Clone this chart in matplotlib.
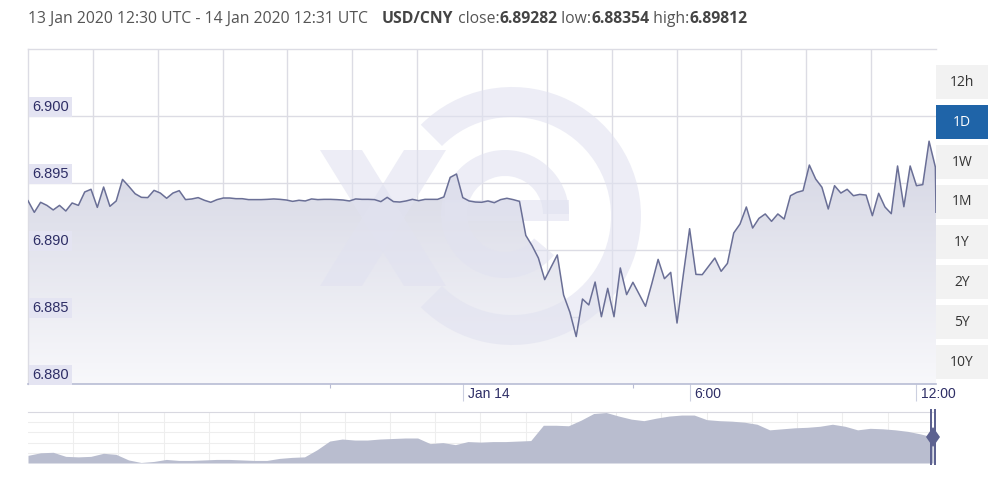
import numpy as np
import pandas as pd
import matplotlib
matplotlib.use("Agg")
import matplotlib.pyplot as plt
import matplotlib.dates as mdates
import matplotlib.transforms as mtransforms
from matplotlib.patches import Wedge, Rectangle, Polygon

# ---------------- data ----------------
title_range = "13 Jan 2020 12:30 UTC - 14 Jan 2020 12:31 UTC"
pair = "USD/CNY"
close_val = "6.89282"
low_val = "6.88354"
high_val = "6.89812"

start_time = "2020-01-13 12:30"
end_time = "2020-01-14 12:31"

rates = [
    6.89368, 6.89281, 6.89356, 6.89333, 6.89299, 6.89333, 6.89291, 6.89351, 6.89333, 6.89433,
    6.89453, 6.89318, 6.89470, 6.89326, 6.89366, 6.89527, 6.89475, 6.89420, 6.89393, 6.89391,
    6.89445, 6.89425, 6.89386, 6.89425, 6.89443, 6.89376, 6.89381, 6.89391, 6.89371, 6.89356,
    6.89376, 6.89388, 6.89388, 6.89383, 6.89383, 6.89376, 6.89376, 6.89376, 6.89378, 6.89381,
    6.89378, 6.89373, 6.89363, 6.89371, 6.89366, 6.89381, 6.89376, 6.89378, 6.89378, 6.89376,
    6.89373, 6.89366, 6.89381, 6.89378, 6.89378, 6.89376, 6.89361, 6.89393, 6.89361, 6.89358,
    6.89366, 6.89378, 6.89368, 6.89378, 6.89378, 6.89378, 6.89396, 6.89542, 6.89567, 6.89391,
    6.89366, 6.89358, 6.89356, 6.89366, 6.89353, 6.89376, 6.89386, 6.89376, 6.89363, 6.89109,
    6.89032, 6.88940, 6.88779, 6.88871, 6.88963, 6.88664, 6.88535, 6.88354, 6.88634, 6.88590,
    6.88761, 6.88502, 6.88714, 6.88502, 6.88866, 6.88667, 6.88759, 6.88669, 6.88580, 6.88749,
    6.88930, 6.88786, 6.88833, 6.88455, 6.88816, 6.89159, 6.88818, 6.88816, 6.88878, 6.88940,
    6.88841, 6.88900, 6.89127, 6.89194, 6.89321, 6.89164, 6.89236, 6.89269, 6.89214, 6.89269,
    6.89231, 6.89405, 6.89430, 6.89443, 6.89634, 6.89530, 6.89468, 6.89306, 6.89480, 6.89425,
    6.89453, 6.89405, 6.89415, 6.89410, 6.89256, 6.89423, 6.89321, 6.89271, 6.89627, 6.89323,
    6.89627, 6.89480, 6.89488, 6.89812, 6.89619,
]
final_rate = 6.89282  # 12:31

y_ticks = [6.880, 6.885, 6.890, 6.895, 6.900]
y_tick_labels = ["6.880", "6.885", "6.890", "6.895", "6.900"]
x_tick_times = ["2020-01-14 00:00", "2020-01-14 06:00", "2020-01-14 12:00"]
x_tick_labels = ["Jan 14", "6:00", "12:00"]
minor_tick_times = ["2020-01-13 20:30", "2020-01-14 04:30"]

buttons = ["12h", "1D", "1W", "1M", "1Y", "2Y", "5Y", "10Y"]
selected_button = "1D"

# navigator overview series (relative level 0..1 of navigator height)
nav_level = [
    0.15, 0.20, 0.21, 0.13, 0.12, 0.13, 0.19, 0.17, 0.06, 0.01,
    0.03, 0.07, 0.05, 0.05, 0.06, 0.07, 0.07, 0.06, 0.05, 0.05,
    0.09, 0.11, 0.12, 0.26, 0.43, 0.47, 0.45, 0.45, 0.47, 0.48,
    0.49, 0.49, 0.38, 0.40, 0.36, 0.42, 0.41, 0.42, 0.42, 0.43,
    0.44, 0.74, 0.74, 0.73, 0.84, 0.97, 0.99, 0.92, 0.86, 0.83,
    0.88, 0.92, 0.94, 0.94, 0.85, 0.83, 0.82, 0.80, 0.76, 0.65,
    0.67, 0.69, 0.70, 0.72, 0.76, 0.72, 0.65, 0.68, 0.67, 0.65,
    0.62, 0.57, 0.51,
]

# ---------------- figure ----------------
W, H = 1007, 478
fig = plt.figure(figsize=(W / 100, H / 100), dpi=100)
fig.patch.set_facecolor("white")

def fx(px):
    return px / W

def fy(py):
    return 1 - py / H

# pixel transform (x right, y down, image pixels)
pix = mtransforms.Affine2D().scale(1 / W, -1 / H).translate(0, 1) + fig.transFigure

L, R, T, B = 28, 936, 49, 384
ax = fig.add_axes([fx(L), fy(B), fx(R - L), (B - T) / H])
ax.set_facecolor("white")

times = list(pd.date_range(start_time, periods=len(rates), freq="10min"))
times.append(pd.Timestamp(end_time))
vals = np.array(rates + [final_rate])
tnum = mdates.date2num(times)

t0 = mdates.date2num(pd.Timestamp(start_time))
t1 = mdates.date2num(pd.Timestamp(end_time))
ymin, ymax = 6.880, 6.905
ax.set_xlim(t0, t1)
ax.set_ylim(ymin, ymax)

# grid
for yv in y_ticks:
    ax.axhline(yv, color="#dcdce4", lw=1.0, zorder=0.5)
for k in range(1, 14):
    ax.axvline(t0 + k * (t1 - t0) / 14, color="#dcdce4", lw=1.0, zorder=0.5)

# gradient area fill
poly = ax.fill_between(tnum, vals, ymin, facecolor="none", edgecolor="none")
grad = np.linspace(0, 1, 256).reshape(-1, 1)
c_top = np.array([0xc6, 0xc8, 0xda]) / 255
c_bot = np.array([0xf8, 0xf8, 0xfb]) / 255
img = c_top[None, None, :] * (1 - grad[:, :, None]) + c_bot[None, None, :] * grad[:, :, None]
im = ax.imshow(img, extent=[t0, t1, ymin, ymax], origin="upper", aspect="auto", zorder=1)
im.set_clip_path(poly.get_paths()[0], transform=ax.transData)

# watermark (xe logo)
wm = dict(facecolor=(225 / 255, 226 / 255, 240 / 255), alpha=0.6, edgecolor="none",
          transform=pix, zorder=2)
ring = Wedge((512, 216), 129, -135, 135, width=30, **wm)
ax.add_artist(ring)
e_arc = Wedge((505, 214), 64, 40, 360, width=26, **wm)
ax.add_artist(e_arc)
e_bar = Rectangle((445, 200), 124, 21, **wm)
ax.add_artist(e_bar)
x1 = Polygon([(320, 150), (362, 150), (446, 286), (404, 286)], closed=True, **wm)
x2 = Polygon([(404, 150), (446, 150), (362, 286), (320, 286)], closed=True, **wm)
ax.add_artist(x1)
ax.add_artist(x2)

# line
ax.plot(tnum, vals, color="#6a6f96", lw=1.1, zorder=3)

# spines
for s in ["top", "left", "right"]:
    ax.spines[s].set_color("#dcdce4")
    ax.spines[s].set_linewidth(1.0)
ax.spines["right"].set_visible(False)
ax.spines["bottom"].set_color("#b8bcd4")
ax.spines["bottom"].set_linewidth(1.2)

# y labels
ax.set_yticks([])
for yv, lab in zip(y_ticks, y_tick_labels):
    ax.text(0.0045, yv + 0.00014, lab, transform=ax.get_yaxis_transform(),
            ha="left", va="bottom", fontsize=10.5, family="Liberation Sans", color="#2e2e66",
            zorder=5,
            bbox=dict(boxstyle="square,pad=0.22", facecolor="#e4e4f2", edgecolor="none"))

# x ticks
ax.set_xticks(mdates.date2num(pd.to_datetime(x_tick_times)))
ax.set_xticklabels(x_tick_labels)
ax.set_xticks(mdates.date2num(pd.to_datetime(minor_tick_times)), minor=True)
ax.tick_params(axis="x", which="major", direction="out", length=12, width=0.8,
               color="#ccd0e0", pad=-10, labelsize=10, labelcolor="#2e2e66")
ax.tick_params(axis="x", which="minor", direction="out", length=3, width=0.8, color="#b8bcd4")
off = mtransforms.ScaledTranslation(5 / 100, 0, fig.dpi_scale_trans)
for lbl in ax.get_xticklabels():
    lbl.set_horizontalalignment("left")
    lbl.set_family("Liberation Sans")
    lbl.set_transform(lbl.get_transform() + off)

# title
title_y = 19
fig.text(fx(28), fy(title_y), title_range, ha="left", va="center", fontsize=11.3,
         family="Open Sans", color="#555555")
parts = [(pair, "bold", 11.3), (" close:", "normal", 11.3), (close_val, "bold", 11.3),
         (" low:", "normal", 11.3), (low_val, "bold", 11.3), (" high:", "normal", 11.3),
         (high_val, "bold", 11.3)]
renderer = fig.canvas.get_renderer()
xcur = 382
for txt, wt, fs in parts:
    t = fig.text(fx(xcur), fy(title_y), txt, ha="left", va="center", fontsize=fs,
                 family="Open Sans", weight=wt,
                 color="#444444" if wt == "bold" else "#555555")
    bb = t.get_window_extent(renderer=renderer)
    xcur += bb.width

# buttons
by0 = 65
for i, b in enumerate(buttons):
    top = by0 + i * 40
    sel = b == selected_button
    fc = "#1f64a8" if sel else "#f2f2f2"
    tc = "white" if sel else "#333333"
    fig.patches.append(Rectangle((936, top), 52, 34, transform=pix, facecolor=fc,
                                 edgecolor="none", figure=fig))
    fig.text(fx(962), fy(top + 17), b, ha="center", va="center", fontsize=10,
             family="Open Sans", color=tc)

# navigator
NL, NR, NT, NB = 28, 933, 412, 463
nax = fig.add_axes([fx(NL), fy(NB), fx(NR - NL), (NB - NT) / H])
nax.set_facecolor("white")
nx = np.arange(len(nav_level))
nax.set_xlim(0, len(nav_level) - 1)
nax.set_ylim(0, 1.0)
for k in range(1, 20):
    nax.axvline(k * (len(nav_level) - 1) / 20, color="#eeeeee", lw=0.8, zorder=0)
for k in range(1, 5):
    nax.axhline(k / 5, color="#eeeeee", lw=0.8, zorder=0)
nax.fill_between(nx, nav_level, 0, color="#b9bdcf", lw=0, zorder=1)
nax.set_xticks([])
nax.set_yticks([])
for s in nax.spines.values():
    s.set_visible(False)
nax.spines["top"].set_visible(True)
nax.spines["top"].set_color("#d8d8e0")
# handle
fig.patches.append(Rectangle((930, 409), 2, 56, transform=pix, facecolor="#5d6290",
                             edgecolor="none", figure=fig))
fig.patches.append(Rectangle((934, 409), 2, 56, transform=pix, facecolor="#5d6290",
                             edgecolor="none", figure=fig))
fig.patches.append(Polygon([(933, 427), (940, 437), (933, 447), (926, 437)], closed=True,
                           transform=pix, facecolor="#5d6290", edgecolor="none", figure=fig))

fig.savefig("out.png", dpi=100, facecolor="white")
